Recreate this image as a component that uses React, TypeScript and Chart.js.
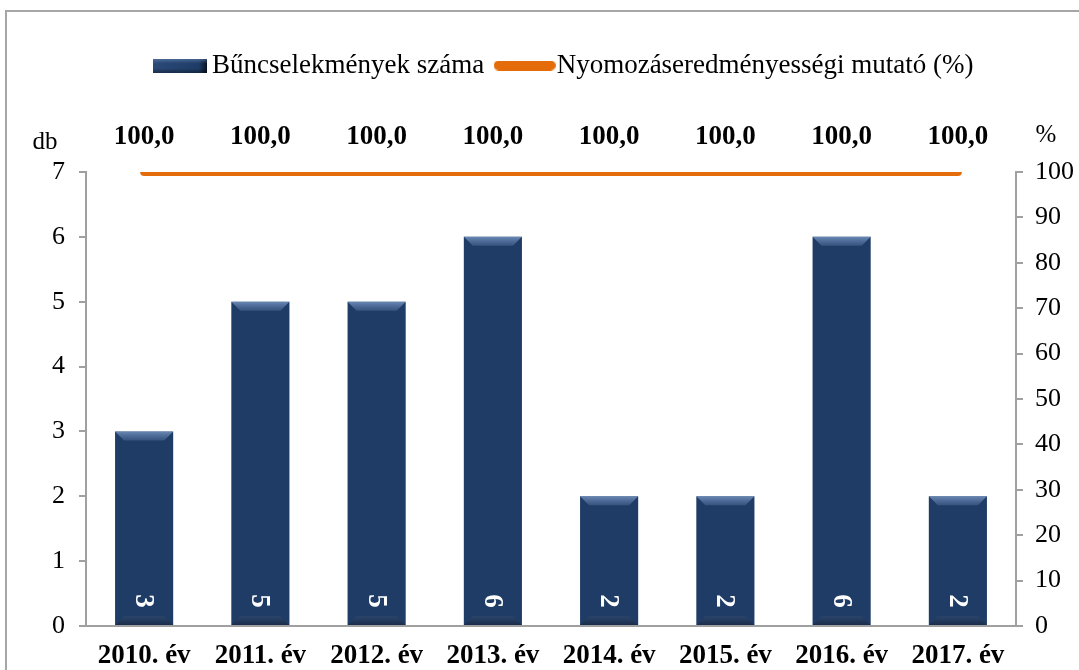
import React, { useEffect, useRef } from "react";
import { Chart, registerables } from "chart.js";

Chart.register(...registerables);

const categories = ["2010. év", "2011. év", "2012. év", "2013. év", "2014. év", "2015. év", "2016. év", "2017. év"];
const crimeCounts = [3, 5, 5, 6, 2, 2, 6, 2];
const clearanceRate = [100, 100, 100, 100, 100, 100, 100, 100];
const seriesNames = ["Bűncselekmények száma", "Nyomozáseredményességi mutató (%)"];
const leftUnit = "db";
const rightUnit = "%";

const FONT = "'Liberation Serif', 'Times New Roman', serif";
const NAVY = "#1F3C66";
const ORANGE = "#E46C0A";
const AXIS = "#A0A0A0";

function makeMarker(w: number, h: number, color: string, rounded: boolean) {
  const c = document.createElement("canvas");
  c.width = w;
  c.height = h;
  const ctx = c.getContext("2d")!;
  ctx.fillStyle = color;
  if (rounded) {
    const r = h / 2;
    ctx.beginPath();
    ctx.moveTo(r, 0);
    ctx.lineTo(w - r, 0);
    ctx.arc(w - r, r, r, -Math.PI / 2, Math.PI / 2);
    ctx.lineTo(r, h);
    ctx.arc(r, r, r, Math.PI / 2, (3 * Math.PI) / 2);
    ctx.fill();
  } else {
    const g = ctx.createLinearGradient(0, 0, w, 0);
    g.addColorStop(0, "#2A4A78");
    g.addColorStop(0.85, NAVY);
    g.addColorStop(1, "#081222");
    ctx.fillStyle = g;
    ctx.fillRect(0, 0, w, h);
    const v = ctx.createLinearGradient(0, 0, 0, h);
    v.addColorStop(0, "rgba(120,150,195,0.5)");
    v.addColorStop(0.35, "rgba(120,150,195,0)");
    v.addColorStop(0.7, "rgba(0,0,0,0)");
    v.addColorStop(1, "rgba(0,0,0,0.35)");
    ctx.fillStyle = v;
    ctx.fillRect(0, 0, w, h);
  }
  return c;
}

const framePlugin = {
  id: "frame",
  beforeDraw(chart: any) {
    const ctx = chart.ctx;
    ctx.save();
    ctx.fillStyle = "#ffffff";
    ctx.fillRect(0, 0, chart.width, chart.height);
    ctx.strokeStyle = "#A6A6A6";
    ctx.lineWidth = 2;
    ctx.strokeRect(6, 11, chart.width + 20, chart.height + 20);
    ctx.restore();
  },
};

const LEGEND_SHIFT = 28;

const legendSpacer = {
  id: "legendSpacer",
  beforeInit(chart: any) {
    const legend = chart.legend;
    const origFit = legend.fit;
    legend.fit = function () {
      origFit.call(this);
      this.height = 172 - 30;
    };
    const origDraw = legend.draw;
    legend.draw = function () {
      const ctx = this.ctx;
      ctx.save();
      ctx.translate(LEGEND_SHIFT, 0);
      origDraw.call(this);
      ctx.restore();
    };
  },
};

const decorPlugin = {
  id: "decor",
  afterDatasetsDraw(chart: any) {
    const ctx = chart.ctx;
    const barMeta = chart.getDatasetMeta(0);
    ctx.save();
    barMeta.data.forEach((bar: any, i: number) => {
      const w = bar.width;
      const left = bar.x - w / 2;
      const right = bar.x + w / 2;
      const top = bar.y;
      const bottom = bar.base;
      const b = 9;
      const tg = ctx.createLinearGradient(0, top, 0, top + b);
      tg.addColorStop(0, "rgba(125,155,200,0.8)");
      tg.addColorStop(1, "rgba(90,120,165,0.4)");
      ctx.fillStyle = tg;
      ctx.beginPath();
      ctx.moveTo(left, top);
      ctx.lineTo(right, top);
      ctx.lineTo(right - b, top + b);
      ctx.lineTo(left + b, top + b);
      ctx.closePath();
      ctx.fill();
      const bg = ctx.createLinearGradient(0, bottom - b, 0, bottom);
      bg.addColorStop(0, "rgba(60,80,110,0.35)");
      bg.addColorStop(1, "rgba(20,30,50,0.55)");
      ctx.fillStyle = bg;
      ctx.beginPath();
      ctx.moveTo(left, bottom);
      ctx.lineTo(right, bottom);
      ctx.lineTo(right - b, bottom - b);
      ctx.lineTo(left + b, bottom - b);
      ctx.closePath();
      ctx.fill();
      ctx.save();
      ctx.translate(bar.x, bottom - 24);
      ctx.rotate(Math.PI / 2);
      ctx.fillStyle = "#ffffff";
      ctx.font = `bold 27px ${FONT}`;
      ctx.textAlign = "center";
      ctx.textBaseline = "middle";
      ctx.fillText(String(crimeCounts[i]), 0, 1);
      ctx.restore();
    });
    const lineMeta = chart.getDatasetMeta(1);
    ctx.fillStyle = "#000000";
    ctx.font = `bold 27px ${FONT}`;
    ctx.textAlign = "center";
    ctx.textBaseline = "middle";
    lineMeta.data.forEach((pt: any, i: number) => {
      ctx.fillText(clearanceRate[i].toFixed(1).replace(".", ","), pt.x, pt.y - 35);
    });
    ctx.font = `25px ${FONT}`;
    ctx.fillText(leftUnit, 45, 142);
    ctx.fillText(rightUnit, 1046, 135);
    ctx.restore();
  },
};

export default function App() {
  const ref = useRef<HTMLCanvasElement>(null);
  useEffect(() => {
    const canvas = ref.current!;
    const barMarker = makeMarker(54, 14, NAVY, false);
    const lineMarker = makeMarker(62, 10, ORANGE, true);
    const chart = new Chart(canvas, {
      data: {
        labels: categories,
        datasets: [
          {
            type: "bar",
            label: seriesNames[0],
            data: crimeCounts,
            yAxisID: "y",
            order: 2,
            categoryPercentage: 1,
            barPercentage: 0.5,
            backgroundColor: (c: any) => {
              const el = c.element;
              const ctx = c.chart.ctx;
              if (!el || !el.width) return NAVY;
              const l = el.x - el.width / 2;
              const g = ctx.createLinearGradient(l, 0, l + el.width, 0);
              g.addColorStop(0, "#1A3358");
              g.addColorStop(0.1, "#22426F");
              g.addColorStop(0.82, "#1F3C66");
              g.addColorStop(0.93, "#0E1D35");
              g.addColorStop(1, "#050B16");
              return g;
            },
            borderWidth: 0,
          } as any,
          {
            type: "line",
            label: seriesNames[1],
            data: clearanceRate,
            yAxisID: "y1",
            order: 1,
            borderColor: ORANGE,
            backgroundColor: ORANGE,
            borderWidth: 8,
            borderCapStyle: "round",
            pointRadius: 0,
            tension: 0,
          } as any,
        ],
      },
      options: {
        animation: false,
        responsive: false,
        devicePixelRatio: 1,
        layout: { padding: { top: 30, left: 0, right: 0, bottom: 0 } },
        plugins: {
          tooltip: { enabled: false },
          legend: {
            display: true,
            position: "top",
            labels: {
              usePointStyle: true,
              pointStyleWidth: 37,
              boxHeight: 14,
              padding: 22,
              color: "#000000",
              font: { family: FONT, size: 27 },
              generateLabels: () => [
                { text: seriesNames[0], pointStyle: barMarker, fillStyle: NAVY, strokeStyle: NAVY, lineWidth: 0, datasetIndex: 0, hidden: false } as any,
                { text: seriesNames[1], pointStyle: lineMarker, fillStyle: ORANGE, strokeStyle: ORANGE, lineWidth: 0, datasetIndex: 1, hidden: false } as any,
              ],
            },
          },
        },
        scales: {
          x: {
            offset: true,
            grid: { display: false, drawTicks: false },
            border: { display: true, color: AXIS, width: 2 },
            ticks: { color: "#000000", font: { family: FONT, size: 27, weight: "bold" }, padding: 14, maxRotation: 0, autoSkip: false },
            afterFit: (s: any) => { s.height = 44; },
          },
          y: {
            position: "left",
            min: 0,
            max: 7,
            grid: { display: true, drawOnChartArea: false, color: AXIS, lineWidth: 2, tickLength: 7 },
            border: { display: true, color: AXIS, width: 2 },
            ticks: { stepSize: 1, color: "#000000", font: { family: FONT, size: 26 }, padding: 14 },
            afterFit: (s: any) => { s.width = 86; },
          },
          y1: {
            position: "right",
            min: 0,
            max: 100,
            grid: { display: true, drawOnChartArea: false, color: AXIS, lineWidth: 2, tickLength: 7 },
            border: { display: true, color: AXIS, width: 2 },
            ticks: { stepSize: 10, color: "#000000", font: { family: FONT, size: 26 }, padding: 12 },
            afterFit: (s: any) => { s.width = 63; },
          },
        },
      } as any,
      plugins: [framePlugin, legendSpacer, decorPlugin],
    });
    return () => chart.destroy();
  }, []);
  return (
    <div style={{ position: "fixed", left: 0, top: 0, width: 1079, height: 670, background: "#fff" }}>
      <canvas ref={ref} width={1079} height={670} />
    </div>
  );
}
